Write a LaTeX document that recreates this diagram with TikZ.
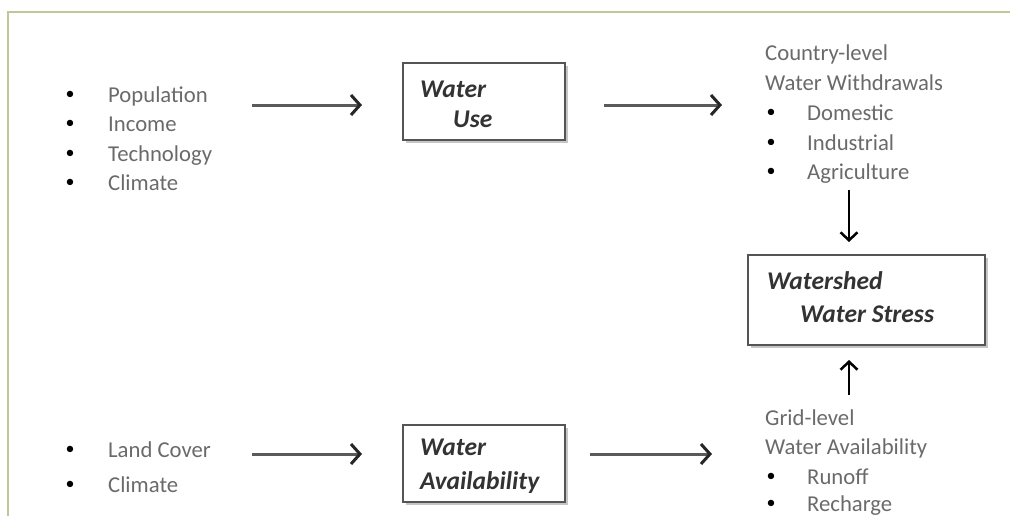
\documentclass[tikz,border=0pt]{standalone}
\usepackage{fontspec}
\setmainfont{Carlito}
\usetikzlibrary{arrows.meta,shadows}
\definecolor{framecol}{HTML}{BFC796}
\definecolor{txtcol}{HTML}{6A6A6A}
\definecolor{boxcol}{HTML}{555555}
\definecolor{arrcol}{HTML}{5A5A5A}
\begin{document}
\begin{tikzpicture}[x=1pt,y=-1pt,
	item/.style={anchor=mid west,inner sep=0,yshift=-5pt,text=txtcol,font=\fontsize{22.7}{29}\selectfont},
	dot/.style={inner sep=0,font=\fontsize{18}{20}\selectfont},
	procbox/.style={draw=boxcol,line width=2pt,fill=white,
		drop shadow={shadow xshift=2.5pt,shadow yshift=-2.5pt,fill=gray!45,opacity=1}},
	boxtxt/.style={anchor=mid west,inner sep=0,yshift=-5pt,text=black!80,
		font=\fontsize{25.5}{32}\selectfont\bfseries\itshape},
	flow/.style={draw=arrcol,line width=3pt,-{Straight Barb[length=9pt,width=20pt,line width=3pt,color=black!85]}},
	link/.style={draw=black,line width=2pt,-{Straight Barb[length=8pt,width=17pt,line width=2.5pt]}}]
	\useasboundingbox(0,0)rectangle(1010,515);
	\draw[framecol,line width=2pt](8,12)rectangle(1040,545);
	% drivers
	\foreach \t/\y [count=\i] in {Population/95,Income/124,Technology/154,Climate/183}{
		\node[dot] at (70,\y){\textbullet};
		\node[item] (drv\i) at (108,\y){\t};
	}
	\foreach \t/\y [count=\i] in {Land Cover/450,Climate/485}{
		\node[dot] at (70,\y){\textbullet};
		\node[item] (lnd\i) at (108,\y){\t};
	}
	% models
	\node[procbox,minimum width=162pt,minimum height=77pt] (use) at (484,101.5){};
	\node[boxtxt] (use1) at (420,90){Water};
	\node[boxtxt] (use2) at (453,120){Use};
	\node[procbox,minimum width=162pt,minimum height=77pt] (avail) at (484,463.5){};
	\node[boxtxt] (avail1) at (420,448){Water};
	\node[boxtxt] (avail2) at (420,482){Availability};
	\node[procbox,minimum width=237pt,minimum height=90pt] (stress) at (866.5,300){};
	\node[boxtxt] (stress1) at (767,282){Watershed};
	\node[boxtxt] (stress2) at (800,315){Water Stress};
	% outputs
	\node[item] (wd1) at (765,53){Country-level};
	\node[item] (wd2) at (765,83){Water Withdrawals};
	\foreach \t/\y [count=\i] in {Domestic/113,Industrial/143,Agriculture/172}{
		\node[dot] at (771,\y){\textbullet};
		\node[item] (sec\i) at (807,\y){\t};
	}
	\node[item] (ga1) at (765,418){Grid-level};
	\node[item] (ga2) at (765,447){Water Availability};
	\foreach \t/\y [count=\i] in {Runoff/477,Recharge/504}{
		\node[dot] at (771,\y){\textbullet};
		\node[item] (src\i) at (807,\y){\t};
	}
	% arrows
	\coordinate (a1) at (252,105); \coordinate (b1) at (362,105);
	\coordinate (a2) at (604,105); \coordinate (b2) at (722,105);
	\coordinate (a3) at (252,454); \coordinate (b3) at (362,454);
	\coordinate (a4) at (590,454); \coordinate (b4) at (712,454);
	\coordinate (a5) at (849,190); \coordinate (b5) at (849,242);
	\coordinate (a6) at (849,395); \coordinate (b6) at (849,360);
	\draw[flow](a1)--(b1);
	\draw[flow](a2)--(b2);
	\draw[flow](a3)--(b3);
	\draw[flow](a4)--(b4);
	\draw[link](a5)--(b5);
	\draw[link](a6)--(b6);
\end{tikzpicture}
\end{document}
